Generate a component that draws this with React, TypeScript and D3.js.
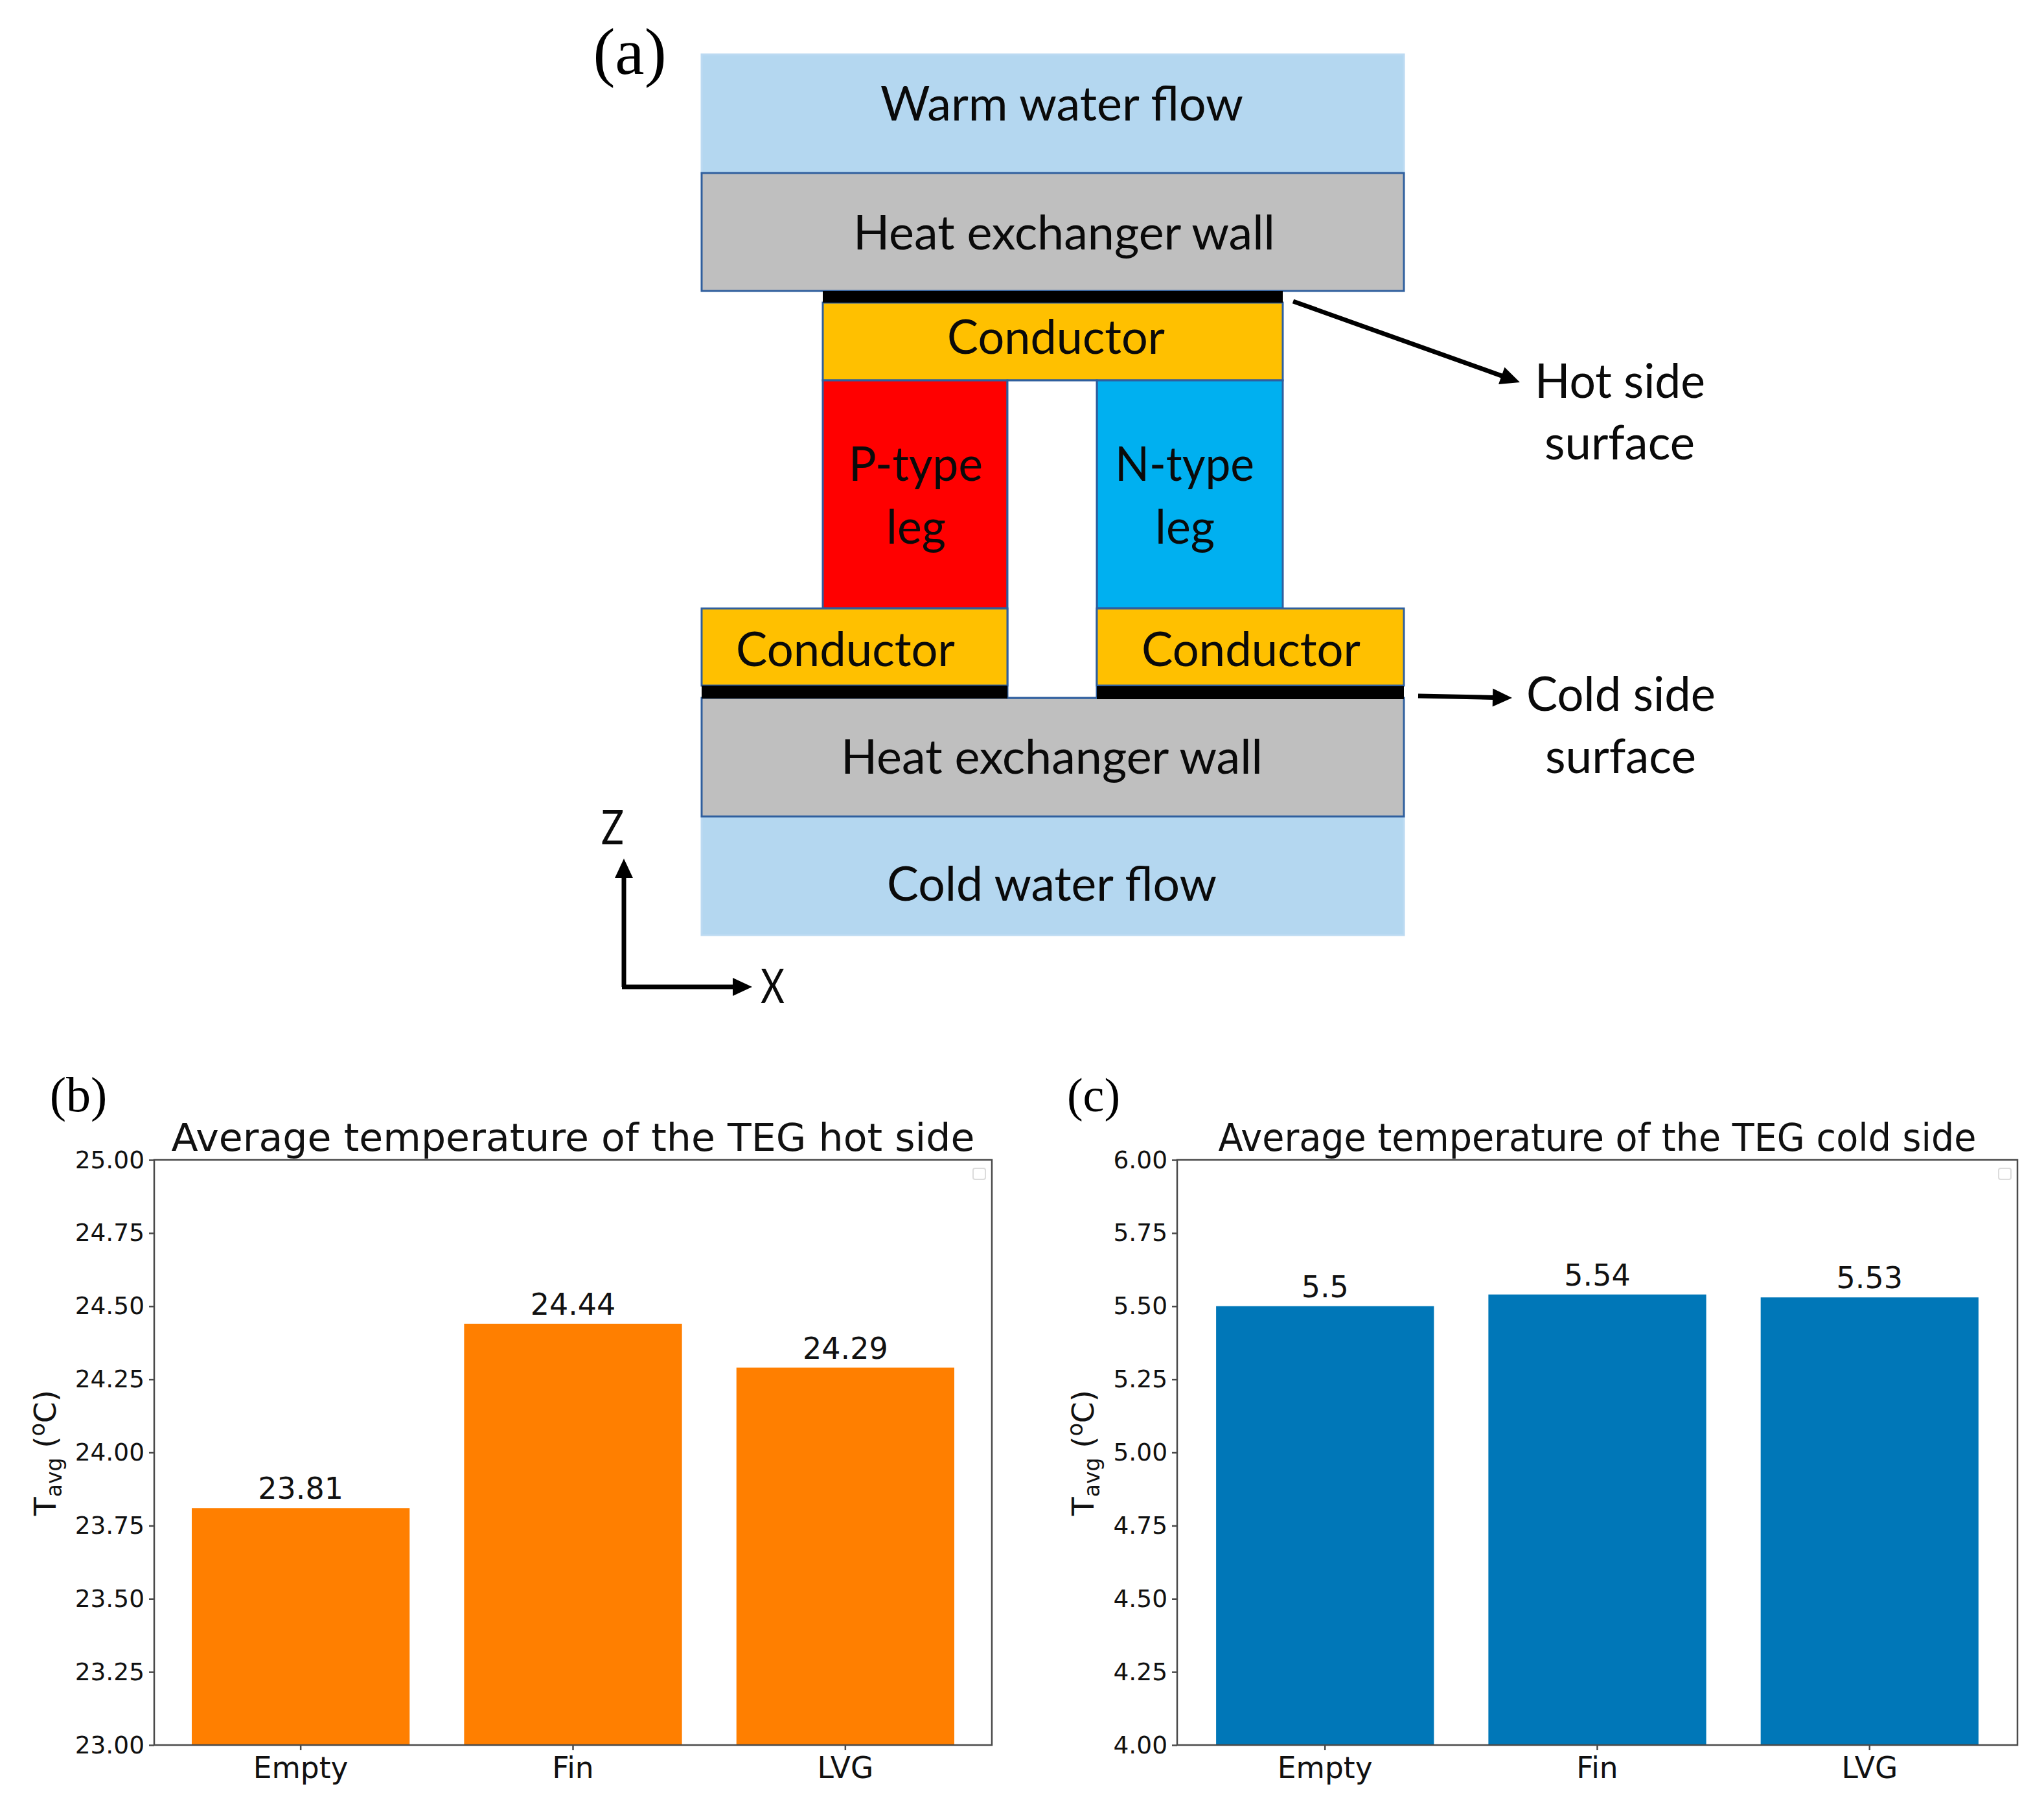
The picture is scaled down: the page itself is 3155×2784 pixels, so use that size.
import { useEffect, useRef } from "react";
import { axisBottom, axisLeft, scaleBand, scaleLinear, select } from "d3";

const categories = ["Empty", "Fin", "LVG"];
const hotValues = [23.81, 24.44, 24.29];
const coldValues = [5.5, 5.54, 5.53];
const hotLabels = ["23.81", "24.44", "24.29"];
const coldLabels = ["5.5", "5.54", "5.53"];
const hotTicks = [23, 23.25, 23.5, 23.75, 24, 24.25, 24.5, 24.75, 25];
const coldTicks = [4, 4.25, 4.5, 4.75, 5, 5.25, 5.5, 5.75, 6];

const CHART_FONT = "'DejaVu Sans', sans-serif";
const SERIF_FONT = "'Liberation Serif', serif";
const DIAGRAM_FONT = "Lato, sans-serif";
const AXIS_COLOR = "#4a4a4a";
const EDGE = "#2f5f9e";

type BarPanelProps = {
  left: number;
  right: number;
  top: number;
  bottom: number;
  title: string;
  titleWidth: number;
  values: number[];
  labels: string[];
  ticks: number[];
  color: string;
  yLabelX: number;
  outerPadding: number;
};

function BarPanel({
  left,
  right,
  top,
  bottom,
  title,
  titleWidth,
  values,
  labels,
  ticks,
  color,
  yLabelX,
  outerPadding,
}: BarPanelProps) {
  const ref = useRef<SVGGElement | null>(null);

  useEffect(() => {
    if (!ref.current) return;
    const g = select(ref.current);
    g.selectAll("*").remove();

    const x = scaleBand<string>()
      .domain(categories)
      .range([left, right])
      .paddingInner(0.2)
      .paddingOuter(outerPadding);
    const y = scaleLinear()
      .domain([ticks[0], ticks[ticks.length - 1]])
      .range([bottom, top]);

    g.selectAll("rect.bar")
      .data(values)
      .enter()
      .append("rect")
      .attr("class", "bar")
      .attr("x", (_, i) => x(categories[i]) as number)
      .attr("y", (d) => y(d))
      .attr("width", x.bandwidth())
      .attr("height", (d) => bottom - y(d))
      .attr("fill", color);

    g.selectAll("text.value")
      .data(values)
      .enter()
      .append("text")
      .attr("class", "value")
      .attr("x", (_, i) => (x(categories[i]) as number) + x.bandwidth() / 2)
      .attr("y", (d) => y(d) - 14)
      .attr("text-anchor", "middle")
      .attr("font-family", CHART_FONT)
      .attr("font-size", 46)
      .attr("fill", "#111")
      .text((_, i) => labels[i]);

    // frame
    g.append("rect")
      .attr("x", left)
      .attr("y", top)
      .attr("width", right - left)
      .attr("height", bottom - top)
      .attr("fill", "none")
      .attr("stroke", AXIS_COLOR)
      .attr("stroke-width", 2.5);

    const yAxis = axisLeft(y)
      .tickValues(ticks)
      .tickSize(8)
      .tickPadding(7)
      .tickFormat((d) => (d as number).toFixed(2));
    const gy = g.append("g").attr("transform", `translate(${left},0)`).call(yAxis);

    const xAxis = axisBottom(x).tickSize(8).tickPadding(11);
    const gx = g.append("g").attr("transform", `translate(0,${bottom})`).call(xAxis);

    gy.select(".domain").remove();
    gx.select(".domain").remove();
    gy.selectAll("line").attr("stroke", AXIS_COLOR).attr("stroke-width", 2.5);
    gx.selectAll("line").attr("stroke", AXIS_COLOR).attr("stroke-width", 2.5);
    gy.selectAll("text")
      .attr("font-family", CHART_FONT)
      .attr("font-size", 37.5)
      .attr("fill", "#111");
    gx.selectAll("text")
      .attr("font-family", CHART_FONT)
      .attr("font-size", 45.5)
      .attr("fill", "#111");

    g.append("text")
      .attr("x", (left + right) / 2)
      .attr("y", top - 14)
      .attr("text-anchor", "middle")
      .attr("font-family", CHART_FONT)
      .attr("font-size", 58)
      .attr("textLength", titleWidth)
      .attr("lengthAdjust", "spacingAndGlyphs")
      .attr("fill", "#111")
      .text(title);

    // legend left empty by the plotting script
    g.append("rect")
      .attr("x", right - 29)
      .attr("y", top + 13)
      .attr("width", 19)
      .attr("height", 17)
      .attr("rx", 3)
      .attr("fill", "#fff")
      .attr("stroke", "#dcdcdc")
      .attr("stroke-width", 2);

    const yLabel = g
      .append("text")
      .attr("transform", `translate(${yLabelX},2242) rotate(-90)`)
      .attr("text-anchor", "middle")
      .attr("font-family", CHART_FONT)
      .attr("font-size", 47)
      .attr("fill", "#111");
    yLabel.append("tspan").text("T");
    yLabel.append("tspan").attr("font-size", 33).attr("dy", 9).text("avg");
    yLabel.append("tspan").attr("dy", -9).text(" (");
    yLabel.append("tspan").attr("font-size", 33).attr("dy", -17).text("o");
    yLabel.append("tspan").attr("dy", 17).text("C)");
  }, [left, right, top, bottom, title, titleWidth, values, labels, ticks, color, yLabelX, outerPadding]);

  return <g ref={ref} />;
}

function Box({
  x0,
  x1,
  y0,
  y1,
  fill,
  stroke = EDGE,
}: {
  x0: number;
  x1: number;
  y0: number;
  y1: number;
  fill: string;
  stroke?: string;
}) {
  return (
    <rect x={x0} y={y0} width={x1 - x0} height={y1 - y0} fill={fill} stroke={stroke} strokeWidth={3} />
  );
}

function Label({ x0, x1, y, text }: { x0: number; x1: number; y: number; text: string }) {
  return (
    <text
      x={(x0 + x1) / 2}
      y={y + 2}
      textAnchor="middle"
      fontFamily={DIAGRAM_FONT}
      fontSize={73}
      fill="#0a0a0a"
      textLength={x1 - x0}
      lengthAdjust="spacingAndGlyphs"
    >
      {text}
    </text>
  );
}

function Arrow({ x1, y1, x2, y2 }: { x1: number; y1: number; x2: number; y2: number }) {
  const angle = Math.atan2(y2 - y1, x2 - x1);
  const len = Math.hypot(x2 - x1, y2 - y1);
  const head = 30;
  return (
    <g transform={`translate(${x1},${y1}) rotate(${(angle * 180) / Math.PI})`}>
      <line x1={0} y1={0} x2={len - head + 2} y2={0} stroke="#000" strokeWidth={7} />
      <polygon points={`${len},0 ${len - head},-14 ${len - head},14`} fill="#000" />
    </g>
  );
}

function Schematic() {
  const wallLeft = 1083;
  const wallRight = 2167;
  const legLeft = 1270;
  const legRight = 1980;
  const gapLeft = 1555;
  const gapRight = 1693;
  return (
    <g>
      <Box x0={wallLeft} x1={wallRight} y0={84} y1={267} fill="#b4d7f0" stroke="#bcdaf2" />
      <Box x0={wallLeft} x1={wallRight} y0={1260} y1={1443} fill="#b4d7f0" stroke="#bcdaf2" />
      <Box x0={wallLeft} x1={wallRight} y0={267} y1={449} fill="#bfbfbf" />
      <Box x0={wallLeft} x1={wallRight} y0={1077} y1={1260} fill="#bfbfbf" />
      <Box x0={legLeft} x1={legRight} y0={467} y1={587} fill="#ffc000" />
      <Box x0={legLeft} x1={gapLeft} y0={587} y1={939} fill="#ff0000" />
      <Box x0={gapRight} x1={legRight} y0={587} y1={939} fill="#00b0f0" />
      <Box x0={gapLeft} x1={gapRight} y0={587} y1={1077} fill="#ffffff" />
      <Box x0={wallLeft} x1={gapLeft} y0={939} y1={1058} fill="#ffc000" />
      <Box x0={gapRight} x1={wallRight} y0={939} y1={1058} fill="#ffc000" />
      <rect x={legLeft} y={449} width={legRight - legLeft} height={18} fill="#000" />
      <rect x={wallLeft} y={1058} width={gapLeft - wallLeft} height={20} fill="#000" />
      <rect x={gapRight} y={1059} width={wallRight - gapRight} height={20} fill="#000" />

      <Label x0={1359} x1={1919} y={184} text="Warm water flow" />
      <Label x0={1317} x1={1968} y={383} text="Heat exchanger wall" />
      <Label x0={1462} x1={1798} y={544} text="Conductor" />
      <Label x0={1310} x1={1517} y={740} text="P-type" />
      <Label x0={1368} x1={1460} y={837} text="leg" />
      <Label x0={1721} x1={1936} y={740} text="N-type" />
      <Label x0={1783} x1={1875} y={837} text="leg" />
      <Label x0={1136} x1={1474} y={1026} text="Conductor" />
      <Label x0={1762} x1={2100} y={1026} text="Conductor" />
      <Label x0={1298} x1={1949} y={1192} text="Heat exchanger wall" />
      <Label x0={1369} x1={1878} y={1388} text="Cold water flow" />
      <Label x0={2369} x1={2632} y={612} text="Hot side" />
      <Label x0={2384} x1={2616} y={707} text="surface" />
      <Label x0={2356} x1={2648} y={1095} text="Cold side" />
      <Label x0={2385} x1={2618} y={1191} text="surface" />
      <Label x0={928} x1={963} y={1301} text="Z" />
      <Label x0={1174} x1={1211} y={1546} text="X" />

      <Arrow x1={1996} y1={465} x2={2346} y2={590} />
      <Arrow x1={2189} y1={1074} x2={2334} y2={1077} />
      <Arrow x1={963} y1={1523} x2={963} y2={1325} />
      <Arrow x1={960} y1={1523} x2={1161} y2={1523} />

      <text x={972} y={114} textAnchor="middle" fontFamily={SERIF_FONT} fontSize={102} fill="#000">
        (a)
      </text>
    </g>
  );
}

export default function App() {
  return (
    <svg
      width={3155}
      height={2784}
      viewBox="0 0 3155 2784"
      style={{ position: "absolute", left: 0, top: 0, background: "#fff" }}
    >
      <Schematic />
      <text x={121} y={1715} textAnchor="middle" fontFamily={SERIF_FONT} fontSize={76} fill="#000">
        (b)
      </text>
      <text x={1688} y={1715} textAnchor="middle" fontFamily={SERIF_FONT} fontSize={74} fill="#000">
        (c)
      </text>
      <BarPanel
        left={238}
        right={1531}
        top={1790}
        bottom={2693}
        title="Average temperature of the TEG hot side"
        titleWidth={1240}
        values={hotValues}
        labels={hotLabels}
        ticks={hotTicks}
        color="#ff7f00"
        yLabelX={86}
        outerPadding={0.138}
      />
      <BarPanel
        left={1817}
        right={3114}
        top={1790}
        bottom={2693}
        title="Average temperature of the TEG cold side"
        titleWidth={1170}
        values={coldValues}
        labels={coldLabels}
        ticks={coldTicks}
        color="#0077b8"
        yLabelX={1688}
        outerPadding={0.143}
      />
    </svg>
  );
}
